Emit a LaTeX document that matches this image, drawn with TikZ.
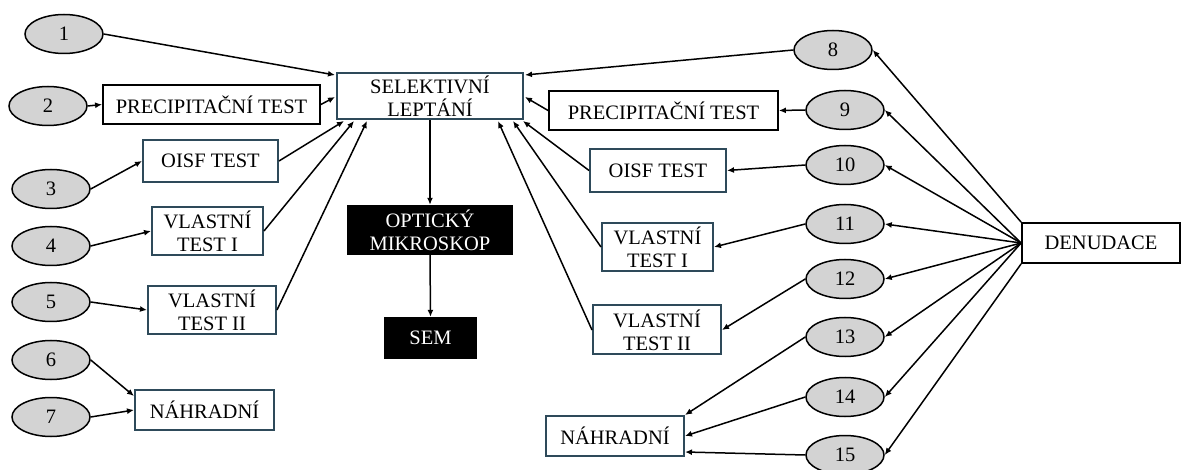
\documentclass[tikz,border=0pt]{standalone}
\usepackage{fontspec}
\setmainfont{Liberation Serif}
\usetikzlibrary{arrows.meta,calc,shapes.geometric}
\definecolor{slate}{HTML}{2E4A5A}
\definecolor{ovalfill}{HTML}{D3D3D3}
\tikzset{
  oval/.style={ellipse,draw=black,line width=1.5pt,fill=ovalfill,
    minimum width=78pt,minimum height=39pt,inner sep=0pt,
    font=\fontsize{20.5}{23}\selectfont},
  plainbox/.style={rectangle,draw=black,line width=1.8pt,fill=white,inner sep=0pt,
    align=center,font=\fontsize{20.5}{23}\selectfont},
  tealbox/.style={plainbox,draw=slate,line width=2pt},
  darkbox/.style={rectangle,fill=black,text=white,inner sep=0pt,align=center,
    font=\fontsize{20.5}{23}\selectfont},
  link/.style={draw=black,line width=1.5pt,-{Latex[length=7pt,width=6pt]}}
}
\begin{document}
\begin{tikzpicture}[x=1pt,y=-1pt]
\useasboundingbox (0,0) rectangle (1181,470);

% left-hand inputs
\node[oval] (e1) at (64,34) {1};
\node[oval] (e2) at (48,106) {2};
\node[oval] (e3) at (51,189) {3};
\node[oval] (e4) at (51,246) {4};
\node[oval] (e5) at (51,302) {5};
\node[oval] (e6) at (51,360) {6};
\node[oval] (e7) at (51,417) {7};

% right-hand inputs
\node[oval] (e8) at (833,50) {8};
\node[oval] (e9) at (845,110) {9};
\node[oval] (e10) at (845,165) {10};
\node[oval] (e11) at (845,224) {11};
\node[oval] (e12) at (845,279) {12};
\node[oval] (e13) at (845,337) {13};
\node[oval] (e14) at (845,397) {14};
\node[oval] (e15) at (845,455) {15};

% central chain
\node[tealbox,minimum width=186pt,minimum height=46pt] (sel) at (430,96) {SELEKTIVNÍ\\LEPTÁNÍ};
\node[darkbox,minimum width=166pt,minimum height=50pt] (opt) at (430,230) {OPTICKÝ\\MIKROSKOP};
\node[darkbox,minimum width=93pt,minimum height=42pt] (sem) at (430.5,338) {SEM};

% left tests
\node[plainbox,minimum width=217pt,minimum height=39pt] (precL) at (211.5,104.5) {PRECIPITAČNÍ TEST};
\node[tealbox,minimum width=135pt,minimum height=42pt] (oisfL) at (210.5,161) {OISF TEST};
\node[tealbox,minimum width=111pt,minimum height=48pt] (vtaL) at (207.5,231) {VLASTNÍ\\TEST I};
\node[tealbox,minimum width=128pt,minimum height=48pt] (vtbL) at (212,310) {VLASTNÍ\\TEST II};
\node[tealbox,minimum width=139pt,minimum height=40pt] (nahL) at (204.5,410) {NÁHRADNÍ};

% right tests
\node[plainbox,minimum width=229pt,minimum height=39pt] (precR) at (663.5,110.5) {PRECIPITAČNÍ TEST};
\node[tealbox,minimum width=136pt,minimum height=43pt] (oisfR) at (658,170.5) {OISF TEST};
\node[tealbox,minimum width=111pt,minimum height=48pt] (vtaR) at (657.5,247) {VLASTNÍ\\TEST I};
\node[tealbox,minimum width=128pt,minimum height=49pt] (vtbR) at (657,330) {VLASTNÍ\\TEST II};
\node[tealbox,minimum width=138pt,minimum height=40pt] (nahR) at (615,436) {NÁHRADNÍ};

\node[plainbox,minimum width=158pt,minimum height=40pt] (den) at (1101,243) {DENUDACE};

% left connectors
\draw[link] (e1.east) -- ($(sel.north west)+(-1,3)$);
\draw[link] (e2.east) -- (precL.west);
\draw[link] (precL.east) -- ($(sel.west)+(-1,1)$);
\draw[link] (e3.east) -- (oisfL.west);
\draw[link] (oisfL.east) -- ($(sel.south west)+(8,1)$);
\draw[link] (e4.east) -- (vtaL.west);
\draw[link] (vtaL.east) -- ($(sel.south west)+(18,1)$);
\draw[link] (e5.east) -- (vtbL.west);
\draw[link] (vtbL.east) -- ($(sel.south west)+(31,1)$);
\draw[link] (e6.east) -- ($(nahL.north west)+(0,7)$);
\draw[link] (e7.east) -- (nahL.west);

% central chain connectors
\draw[link] (sel.south) -- (opt.north);
\draw[link] (opt.south) -- (sem.north);

% right connectors
\draw[link] (e8.west) -- ($(sel.north east)+(1,3)$);
\draw[link] (e9.west) -- (precR.east);
\draw[link] (precR.west) -- ($(sel.east)+(1,1)$);
\draw[link] (e10.west) -- (oisfR.east);
\draw[link] (oisfR.west) -- ($(sel.south east)+(-1,1)$);
\draw[link] (e11.west) -- (vtaR.east);
\draw[link] (vtaR.west) -- ($(sel.south east)+(-11,1)$);
\draw[link] (e12.west) -- (vtbR.east);
\draw[link] (vtbR.west) -- ($(sel.south east)+(-26,1)$);
\draw[link] (e13.west) -- (nahR.north east);
\draw[link] (e14.west) -- (nahR.east);
\draw[link] (e15.west) -- ($(nahR.south east)+(0,-5)$);

% fan-out from DENUDACE
\draw[link] (den.north west) -- (e8.east);
\foreach \k in {9,10,11,12,13,14}
  \draw[link] (den.west) -- (e\k.east);
\draw[link] (den.south west) -- (e15.east);
\end{tikzpicture}
\end{document}
